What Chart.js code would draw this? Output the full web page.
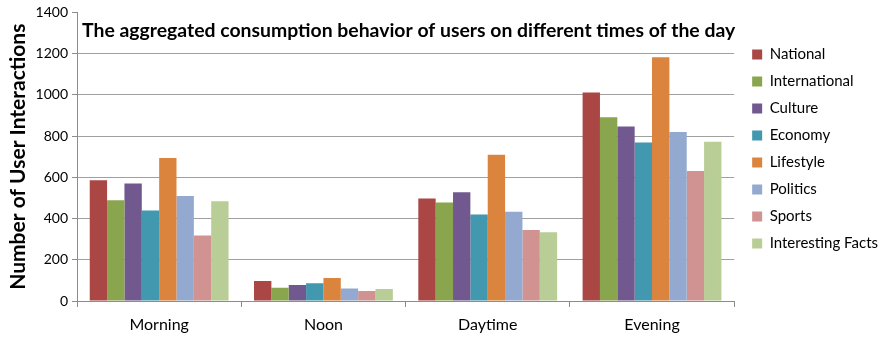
<!DOCTYPE html>
<html>
<head>
<meta charset="utf-8">
<script src="https://cdn.jsdelivr.net/npm/chart.js@4.4.1/dist/chart.umd.min.js"></script>
<style>
  html, body { margin: 0; padding: 0; background: #fff; }
  #wrap { width: 880px; height: 338px; }
</style>
</head>
<body>
<div id="wrap"><canvas id="usageChart"></canvas></div>
<script>
const timesOfDay = ['Morning', 'Noon', 'Daytime', 'Evening'];
const national = [586, 97, 497, 1011];
const international = [489, 64, 478, 891];
const culture = [570, 78, 527, 846];
const economy = [439, 86, 420, 769];
const lifestyle = [694, 111, 710, 1182];
const politics = [509, 61, 433, 820];
const sports = [318, 48, 345, 631];
const interestingFacts = [484, 58, 333, 772];
const chartTitle = 'The aggregated consumption behavior of users on different times of the day';
const yAxisTitle = 'Number of User Interactions';

const fontFamily = 'Lato, "Open Sans", sans-serif';

// title sits inside the plot area, top left
const innerTitle = {
    id: 'innerTitle',
    afterDraw(chart) {
        const ctx = chart.ctx;
        const area = chart.chartArea;
        ctx.save();
        ctx.font = 'bold 19.4px ' + fontFamily;
        ctx.fillStyle = '#000';
        ctx.textBaseline = 'middle';
        ctx.fillText(chartTitle, area.left + 5, area.top + 18);
        ctx.restore();
    }
};

// nudge the legend up and to the right, like in the original
const legendShift = {
    id: 'legendShift',
    afterLayout(chart) {
        chart.legend.top -= 26;
        chart.legend.bottom -= 26;
        chart.legend.left += 6;
        chart.legend.right += 6;
    }
};

function makeSet(label, data, color) {
    return {
        label: label,
        data: data,
        backgroundColor: color,
        borderWidth: 0
    };
}

const ctx = document.getElementById('usageChart').getContext('2d');
const usageChart = new Chart(ctx, {
    type: 'bar',
    data: {
        labels: timesOfDay,
        datasets: [
            makeSet('National', national, '#AA4644'),
            makeSet('International', international, '#89A54E'),
            makeSet('Culture', culture, '#71588F'),
            makeSet('Economy', economy, '#4198AF'),
            makeSet('Lifestyle', lifestyle, '#DB843D'),
            makeSet('Politics', politics, '#93A9CF'),
            makeSet('Sports', sports, '#D19392'),
            makeSet('Interesting Facts', interestingFacts, '#B9CD96')
        ]
    },
    options: {
        responsive: true,
        maintainAspectRatio: false,
        animation: false,
        layout: { padding: { top: 12, left: 0, right: -2, bottom: 0 } },
        datasets: {
            bar: { categoryPercentage: 0.845, barPercentage: 1.0 }
        },
        scales: {
            x: {
                grid: {
                    display: true,
                    offset: true,
                    drawOnChartArea: false,
                    tickLength: 6,
                    color: '#8C8C8C'
                },
                border: { color: '#8C8C8C' },
                ticks: {
                    color: '#000',
                    font: { family: fontFamily, size: 16 },
                    padding: 8
                },
                afterFit: function (scale) { scale.height = 37; }
            },
            y: {
                min: 0,
                max: 1400,
                ticks: {
                    stepSize: 200,
                    color: '#000',
                    font: { family: fontFamily, size: 14 },
                    padding: 4,
                    callback: function (v) { return String(v); }
                },
                grid: {
                    color: function (c) { return c.tick && c.tick.value === 1400 ? 'rgba(0,0,0,0)' : '#A0A0A0'; },
                    tickColor: '#8C8C8C',
                    tickLength: 5
                },
                border: { color: '#8C8C8C' },
                title: {
                    display: true,
                    text: yAxisTitle,
                    color: '#000',
                    font: { family: fontFamily, size: 21, weight: 'bold' },
                    padding: { top: 6, bottom: 3 }
                },
                afterFit: function (scale) { scale.width = 77; }
            }
        },
        plugins: {
            legend: {
                display: true,
                position: 'right',
                labels: {
                    boxWidth: 10,
                    boxHeight: 10,
                    padding: 12,
                    color: '#000',
                    font: { family: fontFamily, size: 15 }
                }
            },
            tooltip: { enabled: false }
        }
    },
    plugins: [innerTitle, legendShift]
});
</script>
</body>
</html>
